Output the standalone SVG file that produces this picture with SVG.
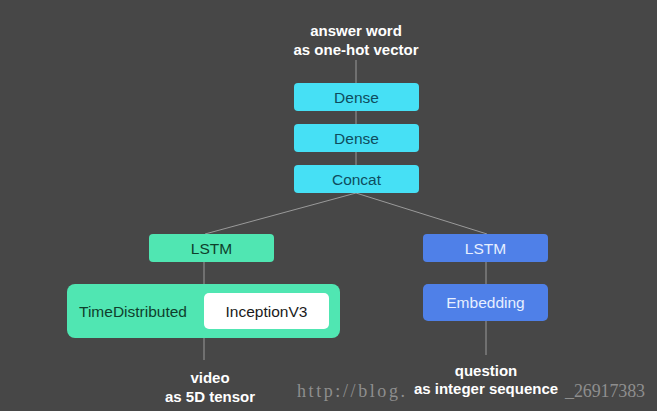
<svg xmlns="http://www.w3.org/2000/svg" width="657" height="411" viewBox="0 0 657 411">
<style>
.lbl{font-family:"Liberation Sans",Arial,sans-serif;font-size:15.5px;text-anchor:middle;dominant-baseline:central}
.io{font-family:"Liberation Sans",Arial,sans-serif;font-size:15px;font-weight:bold;fill:#ffffff;text-anchor:middle}
.wm{font-family:"Liberation Serif","DejaVu Serif",serif;font-size:18px;fill:#8e8e8e}
.cy{fill:#46e0f5}
.cyt{fill:#0e4d5e}
.gr{fill:#50e6b2}
.grt{fill:#0f3f2c}
.bl{fill:#4f80e8}
.blt{fill:#e6efff}
.edge{stroke:#9a9a9a;stroke-width:1;fill:none}
</style>
<rect width="657" height="411" fill="#474747"/>
<text class="wm" x="297" y="397" textLength="108" lengthAdjust="spacing">http://blog.</text>
<text class="wm" x="565" y="397" textLength="80" lengthAdjust="spacing">_26917383</text>
<g id="connectors">
<line class="edge" x1="356" y1="60" x2="356" y2="83"/>
<line class="edge" x1="356" y1="111" x2="356" y2="124"/>
<line class="edge" x1="356" y1="152" x2="356" y2="165"/>
<line class="edge" x1="356" y1="193" x2="205" y2="234"/>
<line class="edge" x1="356" y1="193" x2="487" y2="234"/>
<line class="edge" x1="204" y1="262" x2="204" y2="284"/>
<line class="edge" x1="204" y1="338" x2="204" y2="360"/>
<line class="edge" x1="486" y1="262" x2="486" y2="284"/>
<line class="edge" x1="486" y1="321" x2="486" y2="355"/>
</g>
<g id="answer">
<text class="io" x="356" y="36">answer word</text>
<text class="io" x="356" y="55">as one-hot vector</text>
</g>
<g id="dense1">
<rect class="cy" x="294" y="83" width="125" height="28" rx="4"/>
<text class="lbl cyt" x="356.5" y="97">Dense</text>
</g>
<g id="dense2">
<rect class="cy" x="294" y="124" width="125" height="28" rx="4"/>
<text class="lbl cyt" x="356.5" y="138">Dense</text>
</g>
<g id="concat">
<rect class="cy" x="294" y="165" width="125" height="28" rx="4"/>
<text class="lbl cyt" x="356.5" y="179">Concat</text>
</g>
<g id="lstm_video">
<rect class="gr" x="149" y="234" width="125" height="28" rx="4"/>
<text class="lbl grt" x="211.5" y="248">LSTM</text>
</g>
<g id="timedistributed">
<rect class="gr" x="67" y="284" width="273" height="54" rx="8"/>
<text class="lbl grt" x="133" y="311">TimeDistributed</text>
<rect x="204" y="293" width="125" height="36" rx="5" fill="#ffffff"/>
<text class="lbl" x="266.5" y="311" fill="#1a1a1a">InceptionV3</text>
</g>
<g id="video">
<text class="io" x="210" y="383">video</text>
<text class="io" x="210" y="402">as 5D tensor</text>
</g>
<g id="lstm_question">
<rect class="bl" x="423" y="234" width="125" height="28" rx="4"/>
<text class="lbl blt" x="485.5" y="248">LSTM</text>
</g>
<g id="embedding">
<rect class="bl" x="423" y="284" width="125" height="37" rx="5"/>
<text class="lbl blt" x="485.5" y="302.5">Embedding</text>
</g>
<g id="question">
<text class="io" x="486" y="376">question</text>
<text class="io" x="486" y="394">as integer sequence</text>
</g>
</svg>
